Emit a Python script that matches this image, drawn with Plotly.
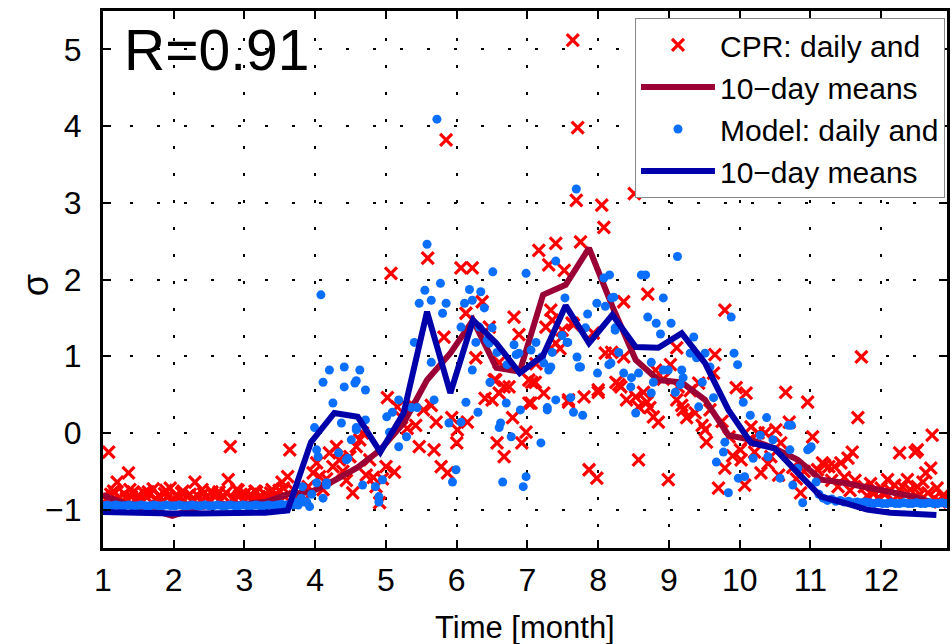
import plotly.graph_objects as go

# ---------------- data ----------------
# 10-day mean time axis (month)
mean_month = [1.00, 1.33, 1.65, 1.98, 2.31, 2.63, 2.96, 3.29, 3.61, 3.94, 4.27, 4.60,
              4.92, 5.25, 5.58, 5.91, 6.23, 6.56, 6.89, 7.22, 7.54, 7.87, 8.20, 8.53,
              8.85, 9.18, 9.51, 9.84, 10.16, 10.49, 10.82, 11.15, 11.47, 11.80, 12.13,
              12.46, 12.78]
cpr_mean = [-0.81, -0.93, -0.99, -1.08, -0.98, -0.93, -0.93, -0.90, -0.80, -0.77, -0.62, -0.45,
            -0.22, 0.13, 0.69, 1.04, 1.47, 0.85, 0.80, 1.80, 1.93, 2.41, 1.65, 0.95,
            0.69, 0.66, 0.43, -0.03, -0.09, -0.20, -0.35, -0.61, -0.65, -0.72, -0.77,
            -0.83, -0.92]
model_mean = [-1.03, -1.04, -1.05, -1.05, -1.05, -1.05, -1.05, -1.04, -1.01, -0.12, 0.26, 0.21,
              -0.25, 0.26, 1.58, 0.52, 1.47, 1.17, 0.78, 1.01, 1.66, 1.17, 1.54, 1.12,
              1.11, 1.30, 0.91, 0.30, -0.13, -0.20, -0.52, -0.83, -0.91, -1.00, -1.04,
              -1.05, -1.07]

# CPR daily values
cpr_day = [
    1.02, 1.05, 1.08, 1.11, 1.14, 1.17, 1.20, 1.23, 1.26, 1.30, 1.33, 1.36, 1.40, 1.43, 1.47, 1.50,
    1.54, 1.58, 1.62, 1.66, 1.71, 1.75, 1.79, 1.83, 1.87, 1.91, 1.95, 1.99, 2.03, 2.07, 2.11, 2.15,
    2.19, 2.23, 2.27, 2.30, 2.34, 2.38, 2.42, 2.46, 2.50, 2.54, 2.58, 2.62, 2.66, 2.70, 2.74, 2.77,
    2.80, 2.84, 2.89, 2.93, 2.97, 3.01, 3.05, 3.09, 3.13, 3.17, 3.21, 3.25, 3.29, 3.33, 3.37, 3.41,
    3.45, 3.49, 3.53, 3.57, 3.61, 3.64, 3.69,
    3.73, 3.78, 3.84, 3.90, 3.97, 4.02, 4.06, 4.11, 4.16, 4.20, 4.25, 4.30, 4.34, 4.39, 4.44, 4.49,
    4.53, 4.58, 4.63, 4.67, 4.72, 4.77, 4.82, 4.86, 4.91, 4.95, 5.00, 5.02, 5.07, 5.12, 5.16, 5.22,
    5.30, 5.36, 5.42, 5.47, 5.53, 5.59, 5.64, 5.68, 5.71, 5.78, 5.82, 5.85, 5.87, 5.93, 6.00, 6.01,
    6.06, 6.13, 6.15, 6.22, 6.27, 6.36, 6.40, 6.46, 6.53, 6.60, 6.67, 6.74, 6.79, 6.81, 6.88, 6.92,
    6.98, 7.05, 7.06, 7.12, 7.16, 7.23, 7.30, 7.33, 7.35, 7.40, 7.46, 7.52, 7.58, 7.63, 7.64, 7.69,
    7.71, 7.75, 7.80, 7.87, 7.93, 7.98, 8.00, 8.05, 8.08, 8.10, 8.19, 8.25, 8.29, 8.36, 8.36, 8.40,
    8.51, 8.53, 8.57, 8.57, 8.64, 8.69, 8.70, 8.73, 8.78, 8.81, 8.85, 8.92, 8.99, 9.02, 9.11, 9.11,
    9.13, 9.18, 9.20, 9.25, 9.30, 9.37, 9.42, 9.47, 9.51, 9.53, 9.58, 9.63, 9.65, 9.70, 9.75, 9.79,
    9.79, 9.85, 9.90, 9.95, 10.01, 10.02, 10.07, 10.09, 10.12, 10.16, 10.21, 10.26, 10.30, 10.36,
    10.40, 10.44, 10.51, 10.55, 10.58, 10.65, 10.70, 10.75, 10.80, 10.86, 10.91, 10.96, 11.03,
    11.10, 11.17, 11.20, 11.26, 11.30, 11.34, 11.39, 11.43, 11.48, 11.53, 11.56, 11.59, 11.63,
    11.67, 11.72, 11.76, 11.80, 11.85, 11.90, 11.95, 12.00, 12.05, 12.09, 12.13, 12.17, 12.19,
    12.23, 12.26, 12.30, 12.34, 12.37, 12.41, 12.45, 12.48, 12.51, 12.51, 12.55, 12.59, 12.63,
    12.66, 12.70, 12.72, 12.75, 12.79, 12.83, 12.87, 12.89,
    6.55, 6.60, 6.50, 7.02, 7.11, 7.02, 6.57, 6.67, 7.26, 7.49, 7.65, 7.40, 7.58, 8.32, 8.00,
    1.15, 1.38, 1.64, 1.89, 2.13, 2.40, 2.64, 2.91, 3.15, 3.39, 3.55]
cpr_val = [
    -0.82, -0.86, -0.25, -0.80, -0.88, -0.78, -0.64, -0.84, -0.90, -0.79, -0.85, -0.52, -0.83, -0.77, -0.87, -0.81,
    -0.89, -0.78, -0.84, -0.80, -0.73, -0.86, -0.82, -0.90, -0.79, -0.84, -0.72, -0.87, -0.81, -0.85, -0.78, -0.88,
    -0.83, -0.80, -0.86, -0.64, -0.82, -0.89, -0.79, -0.84, -0.87, -0.77, -0.83, -0.80, -0.88, -0.82, -0.78, -0.61,
    -0.18, -0.85, -0.74, -0.82, -0.88, -0.79, -0.84, -0.80, -0.86, -0.77, -0.83, -0.89, -0.80, -0.84, -0.78, -0.86,
    -0.81, -0.75, -0.64, -0.83, -0.57, -0.22, -0.74,
    -0.85, -0.80, -0.88, -0.70, -0.52, -0.39, -0.57, -0.74, -0.60, -0.26, -0.44, -0.18, -0.35, -0.50, -0.62, -0.31,
    -0.78, -0.18, -0.09, 0.00, -0.55, -0.35, -0.58, -0.70, -0.91, -0.60, -0.44, 0.46, 2.08, -0.51, 0.34, 0.20,
    0.06, 0.38, 0.10, -0.18, 0.30, 2.28, 0.36, -0.22, 0.14, -0.44, 1.25, 3.82, -0.52, 0.20, -0.13, 0.04,
    2.15, 1.56, 0.14, 2.15, 0.98, 1.71, 0.45, 1.38, 0.69, 0.52, 0.60, 0.60, 0.20, 1.51, 1.28, -0.13,
    0.01, 0.39, 0.66, 0.90, 2.38, 0.52, 2.19, 1.60, 1.47, 2.47, 1.10, 2.12, 0.43, 1.43, 5.12, 3.03,
    3.98, 2.49, 0.47, -0.48, 1.30, -0.59, 0.56, 2.97, 2.68, 1.04, 1.05, 0.66, 0.63, 1.71, 0.99, 0.43,
    3.12, 0.47, 0.34, -0.35, 0.53, 0.40, 1.81, 0.33, 0.21, 0.82, 0.14, 0.70, -0.61, 0.89, 1.11, 0.43,
    0.60, 0.36, 0.30, 0.20, 0.55, 0.26, 0.65, 0.10, 0.04, -0.12, 0.30, 0.78, 1.02, -0.72, 0.15, 1.60,
    -0.46, -0.05, -0.30, 0.59, -0.22, -0.35, -0.68, 0.52, -0.10, 0.08, -0.25, 0.00, -0.52, 0.00,
    -0.40, -0.31, 0.04, -0.55, -0.13, 0.53, 0.14, -0.45, -0.60, -0.78, -0.50, 0.40, -0.05,
    -0.48, -0.39, -0.42, -0.44, -0.62, -0.44, -0.70, -0.39, -0.58, -0.33, -0.75, -0.25, -0.62,
    0.20, 0.99, -0.70, -0.82, -0.66, -0.78, -0.85, -0.72, -0.80, -0.61, -0.75, -0.88, -0.68,
    -0.82, -0.26, -0.70, -0.80, -0.61, -0.74, -0.86, -0.25, -0.22, -0.70, -0.80, -0.64, -0.52,
    -0.78, -0.46, -0.03, -0.85, -0.72, -0.90, -0.82, -0.85,
    0.69, 0.92, 0.43, 0.69, 0.66, 0.39, -0.13, -0.31, 1.38, 1.34, 1.41, 1.17, 0.40, 0.60, 0.53,
    -0.76, -0.74, -0.77, -0.75, -0.76, -0.74, -0.77, -0.75, -0.76, -0.74, -0.72]

# Model daily values
model_day = [
    1.00, 1.06, 1.12, 1.18, 1.24, 1.30, 1.36, 1.42, 1.48, 1.54, 1.60, 1.66, 1.72, 1.78, 1.84, 1.90,
    1.96, 2.02, 2.08, 2.14, 2.20, 2.26, 2.32, 2.38, 2.44, 2.50, 2.56, 2.62, 2.68, 2.74, 2.80, 2.86,
    2.92, 2.98, 3.04, 3.10, 3.16, 3.22, 3.28, 3.34, 3.40, 3.46, 3.52, 3.58, 3.64,
    3.68, 3.72, 3.76, 3.80, 3.82, 3.85, 3.88, 3.92, 3.95, 3.99, 4.02, 4.02, 4.04, 4.08, 4.11, 4.11,
    4.16, 4.16, 4.20, 4.25, 4.33, 4.37, 4.41, 4.41, 4.44, 4.46, 4.51, 4.56, 4.58, 4.58, 4.58, 4.63,
    4.67, 4.71, 4.71, 4.85, 4.90, 4.90, 4.95, 5.01, 5.05, 5.09, 5.18, 5.18, 5.29, 5.36, 5.40, 5.44,
    5.47, 5.55, 5.58, 5.64, 5.64, 5.68, 5.72, 5.77, 5.80, 5.85, 5.89, 5.94, 5.99, 6.06, 6.06, 6.11,
    6.18, 6.22, 6.22, 6.30, 6.32, 6.34, 6.39, 6.46, 6.47, 6.50, 6.51, 6.57, 6.60, 6.62, 6.65, 6.70,
    6.71, 6.77, 6.81, 6.88, 6.94, 6.98, 6.98, 7.19, 7.20, 7.28, 7.33, 7.40, 7.40, 7.53, 7.57, 7.65,
    7.69, 7.70, 7.75, 7.78, 7.85, 7.98, 7.99, 8.08, 8.10, 8.15, 8.16, 8.18, 8.19, 8.22, 8.24, 8.29,
    8.36, 8.46, 8.47, 8.53, 8.57, 8.61, 8.67, 8.70, 8.75, 8.75, 8.78, 8.82, 8.88, 8.92, 8.92, 8.99,
    9.03, 9.09, 9.12, 9.16, 9.18, 9.20, 9.30, 9.35, 9.39, 9.42, 9.47, 9.51, 9.58, 9.63, 9.67, 9.77,
    9.79, 9.84, 9.88, 9.92, 9.97, 9.98, 10.05, 10.07, 10.15, 10.19, 10.29, 10.38, 10.40, 10.47,
    10.57, 10.69, 10.71, 10.73, 10.75, 10.82, 10.89, 10.96, 10.99, 11.01, 11.08, 11.12,
    11.18, 11.24, 11.30, 11.36, 11.42, 11.48, 11.54, 11.60, 11.66, 11.72, 11.78, 11.84, 11.90,
    11.96, 12.02, 12.08, 12.14, 12.20, 12.26, 12.32, 12.38, 12.44, 12.50, 12.56, 12.62, 12.68,
    12.74, 12.80, 12.86, 12.92,
    7.82, 7.73, 7.56, 7.49, 7.12, 7.05, 7.35, 7.23, 7.30, 6.84, 6.43, 6.27, 6.13, 6.90, 7.28, 7.61, 8.24]
model_val = [
    -0.95, -0.94, -0.95, -0.94, -0.95, -0.95, -0.94, -0.95, -0.95, -0.94, -0.95, -0.95, -0.94, -0.95, -0.95, -0.94,
    -0.95, -0.95, -0.94, -0.95, -0.95, -0.94, -0.95, -0.95, -0.94, -0.95, -0.95, -0.94, -0.95, -0.95, -0.94, -0.95,
    -0.95, -0.94, -0.95, -0.95, -0.94, -0.95, -0.95, -0.94, -0.95, -0.94, -0.93, -0.94, -0.93,
    -0.94, -0.90, -0.94, -0.85, -0.70, -0.90, -0.90, -0.96, -0.80, 0.07, -0.22, -0.65, -0.31, 1.80, 0.66, -0.85,
    -0.65, -0.68, 0.82, 0.39, -0.26, 0.13, 0.86, 0.60, -0.35, -0.33, -0.09, 0.65, 0.68, 0.07, 0.04, 0.82,
    -0.68, 0.56, 0.17, -0.70, -0.83, -0.90, -0.61, 0.21, 0.01, 0.27, 0.43, -0.18, -0.05, 0.33, 1.18, 0.33,
    1.69, 1.86, 2.46, 1.73, 0.92, 0.43, 4.09, 1.95, 1.56, 1.69, 0.13, -0.64, -0.48, 0.14, 1.38, 1.69,
    1.87, 1.73, 0.82, 0.27, 1.38, 1.84, 1.63, 1.17, 0.66, 1.37, 2.10, 1.05, 0.07, 0.13, -0.64, 0.39,
    0.89, -0.05, 1.15, 1.04, -0.70, 2.08, -0.57, -0.13, 0.99, 0.33, 0.86, 2.24, 0.43, 1.76, 1.18, 0.27,
    3.18, 0.99, 0.86, 0.23, 1.55, 1.69, 0.78, 2.02, 1.65, 0.89, 2.06, 0.91, 1.76, 1.77, 1.37, 1.05,
    0.78, 0.60, 0.72, 0.26, 0.78, 2.06, 2.06, 1.51, 0.92, 0.52, 0.66, 1.43, 1.29, 1.76, 0.82, 0.82,
    1.43, 0.53, 2.30, 0.63, 0.82, 0.72, 1.04, 1.25, 0.98, 0.34, 0.66, 1.04, 0.86, 0.46, -0.38, -0.25,
    -0.12, -0.78, 1.51, 1.04, 0.89, -0.59, 0.40, -0.57, 0.23, -0.33, -0.03, 0.20, -0.31, -0.09,
    -0.59, 0.10, -0.22, 0.10, -0.68, -0.46, -0.91, -0.22, -0.20, -0.18, -0.64, -0.80,
    -0.85, -0.88, -0.86, -0.89, -0.88, -0.90, -0.89, -0.91, -0.90, -0.91, -0.90, -0.91, -0.92,
    -0.91, -0.92, -0.92, -0.91, -0.92, -0.92, -0.91, -0.92, -0.92, -0.91, -0.92, -0.92, -0.91,
    -0.92, -0.92, -0.91, -0.92,
    1.37, 0.86, 1.18, 1.27, 1.18, 1.08, 1.05, 0.91, 0.82, 1.02, 1.21, 1.18, 0.40, 0.30, 0.30, 0.46, 1.34]

month_ticks = [1, 2, 3, 4, 5, 6, 7, 8, 9, 10, 11, 12]
sigma_ticks = [-1, 0, 1, 2, 3, 4, 5]

FONT = "Liberation Sans, Arial, Helvetica, sans-serif"

fig = go.Figure()
fig.add_trace(go.Scatter(
    x=cpr_day, y=cpr_val, mode="markers", name="CPR: daily and",
    marker=dict(symbol="x-thin", size=12, color="#FF0000",
                line=dict(color="#FF0000", width=3.2))))
fig.add_trace(go.Scatter(
    x=mean_month, y=cpr_mean, mode="lines", name="10\u2212day means",
    line=dict(color="#9A0036", width=6)))
fig.add_trace(go.Scatter(
    x=model_day, y=model_val, mode="markers", name="Model: daily and",
    marker=dict(symbol="circle", size=9, color="#0A6EFF", line=dict(width=0))))
fig.add_trace(go.Scatter(
    x=mean_month, y=model_mean, mode="lines", name="10\u2212day means",
    line=dict(color="#0000AA", width=6)))

axis_common = dict(
    showline=True, linewidth=3, linecolor="black", mirror="ticks",
    ticks="inside", ticklen=8, tickwidth=2, tickcolor="black",
    showgrid=True, gridcolor="black", gridwidth=2, griddash="3px,24px",
    zeroline=False, tickfont=dict(family=FONT, size=32, color="black"),
)

fig.update_layout(
    width=952, height=644,
    margin=dict(l=103, r=2, t=11, b=96),
    paper_bgcolor="white", plot_bgcolor="white",
    font=dict(family=FONT, color="black"),
    xaxis=dict(range=[1, 12.93], tickvals=month_ticks, ticklabelstandoff=2,
               **axis_common),
    yaxis=dict(range=[-1.5, 5.5], tickvals=sigma_ticks, ticklabelstandoff=12,
               **axis_common),
    legend=dict(x=0.9976, y=0.987, xanchor="right", yanchor="top",
                bgcolor="white", bordercolor="#888888", borderwidth=1,
                font=dict(family=FONT, size=30, color="black"),
                itemwidth=74, tracegroupgap=0),
    showlegend=True,
    annotations=[
        dict(text="R=0.91", xref="paper", yref="paper",
             x=0.022, y=0.928, xanchor="left", yanchor="middle",
             showarrow=False, font=dict(family=FONT, size=57, color="black")),
        dict(text="Time [month]", xref="paper", yref="paper",
             x=0.5, y=-0.148, xanchor="center", yanchor="middle",
             showarrow=False, font=dict(family=FONT, size=31, color="black")),
        dict(text="\u03c3", xref="paper", yref="paper",
             x=-0.080, y=0.49, xanchor="center", yanchor="middle", textangle=-90,
             showarrow=False, font=dict(family=FONT, size=36, color="black")),
    ],
)

fig.write_html("out.html")
